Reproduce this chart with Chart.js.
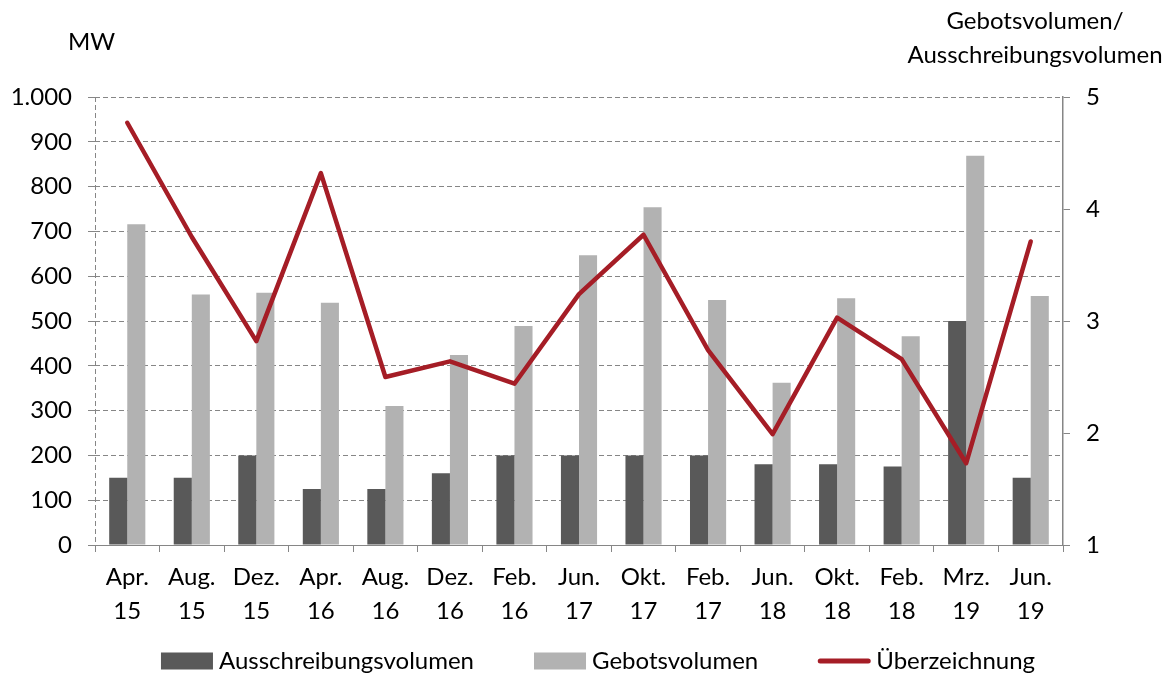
<!DOCTYPE html>
<html><head><meta charset="utf-8">
<script src="https://cdn.jsdelivr.net/npm/chart.js@4"></script>
<style>html,body{margin:0;padding:0;background:#fff}#wrap{width:1174px;height:675px;position:relative}canvas{display:block}</style>
</head><body><div id="wrap"><canvas id="c" width="1174" height="675" style="width:1174px;height:675px"></canvas></div>
<script>
const categories = [["Apr.","15"],["Aug.","15"],["Dez.","15"],["Apr.","16"],["Aug.","16"],["Dez.","16"],["Feb.","16"],["Jun.","17"],["Okt.","17"],["Feb.","17"],["Jun.","18"],["Okt.","18"],["Feb.","18"],["Mrz.","19"],["Jun.","19"]];
const ausschreibungsvolumen = [150,150,200,125,125,160,200,200,200,200,180,180,175,500,150];
const gebotsvolumen = [716,559,563,541,310,424,489,647,754,547,362,551,466,869,556];
const ueberzeichnung = [4.77,3.75,2.82,4.32,2.50,2.64,2.44,3.24,3.77,2.74,1.99,3.03,2.66,1.73,3.71];
const leftTitle = "MW";
const rightTitle = ["Gebotsvolumen/","Ausschreibungsvolumen"];
const seriesNames = ["Ausschreibungsvolumen","Gebotsvolumen","Überzeichnung"];

const FONT = 'Lato';
const FS = 24;
const GRID = '#868686';
const TXT = '#000';

const overlay = {
  id: 'overlay',
  afterDraw(chart){
    const ctx = chart.ctx;
    ctx.save();
    ctx.fillStyle = TXT;
    ctx.font = FS + 'px ' + FONT;
    ctx.textBaseline = 'middle';
    ctx.textAlign = 'left';
    ctx.fillText(leftTitle, 68, 42);
    ctx.textAlign = 'center';
    ctx.fillText(rightTitle[0], 1035, 21);
    ctx.fillText(rightTitle[1], 1035, 55);
    // legend
    const ds = chart.data.datasets;
    const boxW = 52, gapText = 6, gapItem = 60, y = 661;
    const widths = ds.map(d => boxW + gapText + ctx.measureText(d.label).width);
    const total = widths.reduce((a,b)=>a+b,0) + gapItem*(ds.length-1);
    let x = 598 - total/2;
    ctx.textAlign = 'left';
    ds.forEach((d,i) => {
      if (d.type === 'line') {
        ctx.strokeStyle = d.borderColor;
        ctx.lineWidth = 5;
        ctx.lineCap = 'round';
        ctx.beginPath(); ctx.moveTo(x+2, y); ctx.lineTo(x+boxW-2, y); ctx.stroke();
      } else {
        ctx.fillStyle = d.backgroundColor;
        ctx.fillRect(x, y-8.5, boxW, 17);
      }
      ctx.fillStyle = TXT;
      ctx.fillText(d.label, x + boxW + gapText, y);
      x += widths[i] + gapItem;
    });
    ctx.restore();
  }
};

new Chart(document.getElementById('c'), {
  type: 'bar',
  data: {
    labels: categories,
    datasets: [
      {label: seriesNames[0], data: ausschreibungsvolumen, backgroundColor: '#595959', yAxisID: 'y', order: 2,
       categoryPercentage: 0.56, barPercentage: 1.0},
      {label: seriesNames[1], data: gebotsvolumen, backgroundColor: '#b2b2b2', yAxisID: 'y', order: 2,
       categoryPercentage: 0.56, barPercentage: 1.0},
      {type: 'line', label: seriesNames[2], data: ueberzeichnung, borderColor: '#a51d26', backgroundColor: '#a51d26',
       borderWidth: 4.5, pointRadius: 0, yAxisID: 'y1', order: 1, tension: 0, borderJoinStyle: 'round', borderCapStyle: 'round'}
    ]
  },
  options: {
    responsive: false,
    animation: false,
    devicePixelRatio: 1,
    layout: {padding: {top: 97, left: 0, right: 0, bottom: 0}},
    plugins: {legend: {display: false}, tooltip: {enabled: false}},
    scales: {
      x: {
        grid: {offset: true, drawOnChartArea: true, color: c => c.index === 0 ? GRID : 'rgba(0,0,0,0)', tickColor: GRID, tickLength: 7, lineWidth: 1},
        border: {display: true, color: GRID, width: 1, dash: [5,3]},
        ticks: {color: TXT, font: {family: FONT, size: FS, lineHeight: 1.42}, padding: 8, maxRotation: 0, autoSkip: false},
        afterFit: s => { s.height = 130; }
      },
      y: {
        position: 'left', min: 0, max: 1000,
        ticks: {stepSize: 100, color: TXT, font: {family: FONT, size: FS}, padding: 16,
          callback: v => v >= 1000 ? (Math.floor(v/1000) + '.' + String(v%1000).padStart(3,'0')) : String(v)},
        grid: {color: GRID, tickColor: GRID, tickLength: 7, lineWidth: 1},
        border: {display: false, dash: [5,3]},
        afterFit: s => { s.width = 95; }
      },
      y1: {
        position: 'right', min: 1, max: 5,
        ticks: {stepSize: 1, color: TXT, font: {family: FONT, size: FS}, padding: 16},
        grid: {drawOnChartArea: false, color: GRID, tickLength: 7},
        border: {display: true, color: GRID, width: 1.5},
        afterFit: s => { s.width = 111; }
      }
    }
  },
  plugins: [overlay]
});
</script>
</body></html>
